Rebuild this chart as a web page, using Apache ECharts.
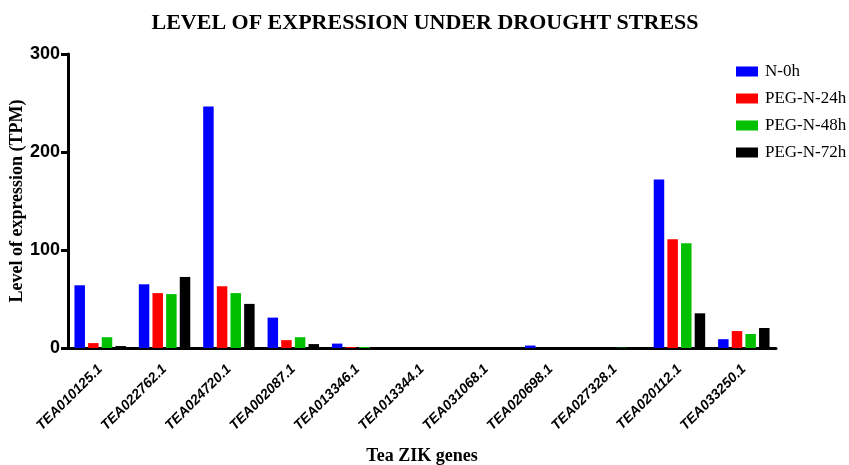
<!DOCTYPE html>
<html>
<head>
<meta charset="utf-8">
<script src="https://cdn.jsdelivr.net/npm/echarts@6/dist/echarts.min.js"></script>
<style>html,body{margin:0;padding:0;background:#fff}#c{width:849px;height:465px}</style>
</head>
<body>
<div id="c"></div>
<script>
const categories = ['TEA010125.1','TEA022762.1','TEA024720.1','TEA002087.1','TEA013346.1','TEA013344.1','TEA031068.1','TEA020698.1','TEA027328.1','TEA020112.1','TEA033250.1'];
const seriesNames = ['N-0h','PEG-N-24h','PEG-N-48h','PEG-N-72h'];
const n0h  = [64, 65, 246.5, 31, 4.5, 0, 0, 2.5, 0, 172, 9];
const n24h = [5, 56, 63, 8, 1, 0, 0, 0, 0, 111, 17.3];
const n48h = [11, 55, 56, 11, 1, 0, 0, 0, 0.3, 107, 14.3];
const n72h = [2, 72.5, 45, 4, 0, 0, 0, 0, 0, 35.4, 20.4];
const yTicks = [0, 100, 200, 300];
const colors = ['#0000FF','#FF0000','#00C000','#000000'];
const values = [n0h, n24h, n48h, n72h];

const chart = echarts.init(document.getElementById('c'));
chart.setOption({
  animation: false,
  title: {
    text: 'LEVEL OF EXPRESSION UNDER DROUGHT STRESS',
    left: 420, top: 7, textAlign: 'center',
    textStyle: { fontFamily: 'Liberation Serif', fontWeight: 'bold', fontSize: 22, color: '#000' }
  },
  legend: {
    orient: 'vertical', left: 731, top: 58,
    itemWidth: 22, itemHeight: 10, itemGap: 10,
    icon: 'rect',
    textStyle: { fontFamily: 'Liberation Serif', fontSize: 17, color: '#000', padding: [0,0,0,2] },
    data: seriesNames
  },
  grid: { left: 68, right: 73, top: 54, bottom: 117, containLabel: false, outerBoundsMode: 'none' },
  xAxis: {
    type: 'category', data: categories,
    name: 'Tea ZIK genes', nameLocation: 'middle', nameGap: 99, nameMoveOverlap: false,
    nameTextStyle: { fontFamily: 'Liberation Serif', fontWeight: 'bold', fontSize: 18, color: '#000' },
    axisLine: { lineStyle: { color: '#000', width: 3 } },
    axisTick: { alignWithLabel: true, length: 7, lineStyle: { color: '#000', width: 3 } },
    axisLabel: { rotate: 45, interval: 0, margin: 19, fontFamily: 'Liberation Sans', fontStyle: 'italic', fontWeight: 'bold', fontSize: 14, color: '#000' }
  },
  yAxis: {
    type: 'value', min: 0, max: 300, interval: 100,
    name: 'Level of expression (TPM)', nameLocation: 'middle', nameGap: 42, nameMoveOverlap: false,
    nameTextStyle: { fontFamily: 'Liberation Serif', fontWeight: 'bold', fontSize: 18, color: '#000' },
    axisLine: { show: true, lineStyle: { color: '#000', width: 3 } },
    axisTick: { show: true, length: 7, lineStyle: { color: '#000', width: 3 } },
    axisLabel: { margin: 8, fontFamily: 'Liberation Sans', fontWeight: 'bold', fontSize: 18, color: '#000',
      formatter: v => yTicks.includes(v) ? String(v) : '' },
    splitLine: { show: false }
  },
  series: seriesNames.map((name, i) => ({
    name, type: 'bar', data: values[i],
    barWidth: 10.5, barGap: '30%', barCategoryGap: '21%',
    itemStyle: { color: colors[i] }
  }))
});
</script>
</body>
</html>
